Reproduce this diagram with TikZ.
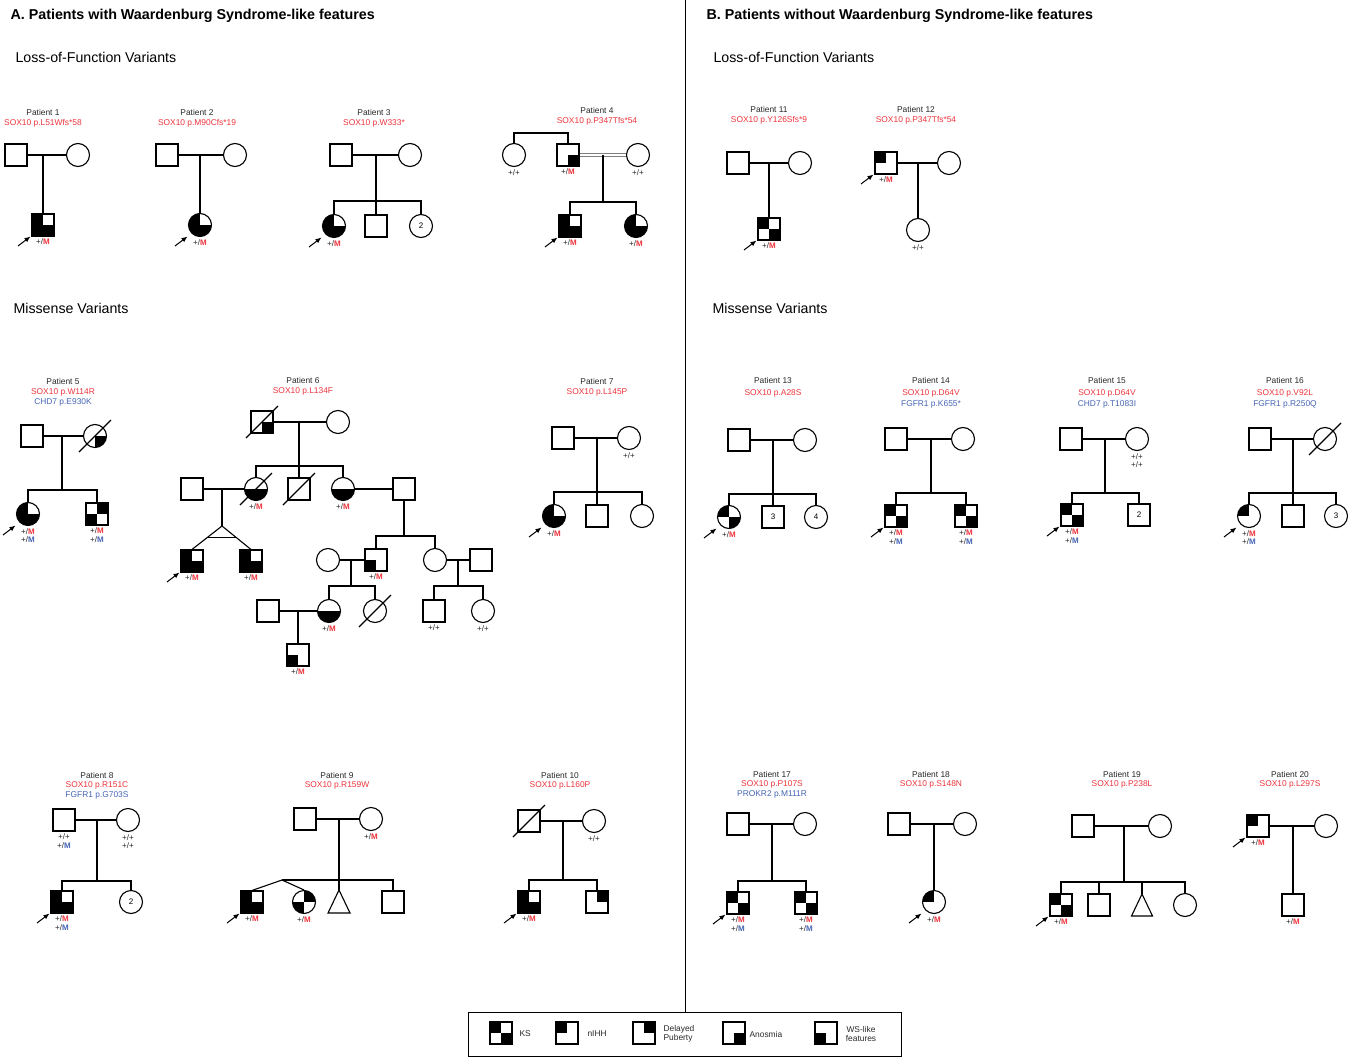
\documentclass[tikz,border=0pt]{standalone}
\usepackage{fontspec}
\setmainfont{Liberation Sans}
\usetikzlibrary{calc,arrows.meta}
\definecolor{vred}{RGB}{236,52,60}
\definecolor{vblue}{RGB}{70,100,180}
\definecolor{txt}{RGB}{40,40,40}
\newcommand{\gR}{\textcolor{vred}{\bfseries M}}
\newcommand{\gB}{\textcolor{vblue}{\bfseries M}}
% square individual: [node options]{name}{x}{y}{filled quadrants}{text}
\newcommand{\Sq}[6][]{%
  \ifx\relax#5\relax\else
    \foreach \a/\b in {#5}{\fill (#3,#4) rectangle ++(\a*11,\b*11);}%
  \fi
  \node[sqs,#1] (#2) at (#3,#4) {#6};}
% circle individual
\newcommand{\Ci}[6][]{%
  \ifx\relax#5\relax\else
    \begin{scope}\clip (#3,#4) circle[radius=11.5];
    \foreach \a/\b in {#5}{\fill (#3,#4) rectangle ++(\a*12,\b*12);}%
    \end{scope}%
  \fi
  \node[cis,#1] (#2) at (#3,#4) {#6};}
\newcommand{\pb}[1]{\draw[parr] ([shift={(-25,21)}]#1.center) -- ([shift={(-12.5,11.5)}]#1.center);}
\newcommand{\dec}[1]{\draw ([shift={(-16,16)}]#1.center) -- ([shift={(16,-16)}]#1.center);}
\tikzset{
  sqs/.style={draw, minimum size=22pt, inner sep=0pt, font=\fontsize{8}{9}\selectfont},
  cis/.style={draw, circle, minimum size=23pt, inner sep=0pt, font=\fontsize{8}{9}\selectfont},
  gt/.style={font=\fontsize{8}{8.5}\selectfont, text=txt, align=center, inner sep=0.5pt},
  parr/.style={-{Latex[length=6pt,width=5pt]}, line width=1pt},
  cons/.style={double, double distance=2.4pt, line width=1pt, draw=black!50},
  fam/.style={align=center, anchor=north, inner sep=0pt, text=txt},
  f10/.style={font=\fontsize{8.4}{10}\selectfont},
  f9/.style={font=\fontsize{8.4}{9.2}\selectfont},
  f11/.style={font=\fontsize{8.4}{11.5}\selectfont},
  head/.style={anchor=west, inner sep=0pt, font=\fontsize{14.3}{16}\selectfont\bfseries},
  sub/.style={anchor=west, inner sep=0pt, font=\fontsize{14.2}{16}\selectfont},
  legt/.style={anchor=west, inner sep=0pt, text=txt, font=\fontsize{8.4}{9.2}\selectfont},
  m1/.style={label={[gt]below:+/\gR}},
  m2/.style={label={[gt]below:+/\gR\\+/\gB}},
  pp/.style={label={[gt]below:+/+}},
}
\begin{document}
\begin{tikzpicture}[x=1pt,y=-1pt,line width=1.1pt,label distance=1.5pt]
\useasboundingbox (0,0) rectangle (1358,1057);

% headings
\node[head] (hA) at (10,16) {A. Patients with Waardenburg Syndrome-like features};
\node[head] (hB) at (706,16) {B. Patients without Waardenburg Syndrome-like features};
\node[sub] (lofA) at (15,57) {Loss-of-Function Variants};
\node[sub] (lofB) at (713,57) {Loss-of-Function Variants};
\node[sub] (misA) at (13,308) {Missense Variants};
\node[sub] (misB) at (712,308) {Missense Variants};

% legend box and divider
\node[draw, line width=1pt, anchor=north west, minimum width=433pt, minimum height=44pt, inner sep=0pt] (leg) at (467.5,1012) {};
\coordinate (dtop) at (685,0);
\draw[line width=1pt] (dtop) -- (dtop |- leg.north);

% ---------- Patient 1
\node[fam,f10] (lab1) at (43,109) {Patient 1\\\textcolor{vred}{SOX10 p.L51Wfs*58}};
\Sq{f1}{16}{155}{}{}
\Ci{mo1}{78}{155}{}{}
\Sq[m1]{c1}{43}{225}{-1/-1,-1/1,1/1}{}
\coordinate (mm1) at (43,155);
\draw (f1) -- (mo1); \draw (mm1) -- (c1);
\pb{c1}

% ---------- Patient 2
\node[fam,f10] (lab2) at (197,109) {Patient 2\\\textcolor{vred}{SOX10 p.M90Cfs*19}};
\Sq{f2}{167}{155}{}{}
\Ci{mo2}{235}{155}{}{}
\Ci[m1]{c2}{200}{225}{-1/-1,-1/1,1/1}{}
\coordinate (mm2) at (200,155);
\draw (f2) -- (mo2); \draw (mm2) -- (c2);
\pb{c2}

% ---------- Patient 3
\node[fam,f10] (lab3) at (374,109) {Patient 3\\\textcolor{vred}{SOX10 p.W333*}};
\Sq{f3}{341}{155}{}{}
\Ci{mo3}{410}{155}{}{}
\Ci[m1]{c3a}{334}{226}{-1/-1,-1/1,1/1}{}
\Sq{c3b}{376}{226}{}{}
\Ci{c3c}{421}{226}{}{2}
\coordinate (mm3) at (376,155); \coordinate (s3) at (376,201);
\draw (f3) -- (mo3); \draw (mm3) -- (s3);
\draw (c3a) |- (s3) -| (c3c); \draw (s3) -- (c3b);
\pb{c3a}

% ---------- Patient 4
\node[fam,f10] (lab4) at (597,107) {Patient 4\\\textcolor{vred}{SOX10 p.P347Tfs*54}};
\Ci[pp]{g4}{514}{155}{}{}
\Sq[m1]{f4}{568}{155}{1/1}{}
\Ci[pp]{w4}{638}{155}{}{}
\coordinate (b4) at (541,133);
\draw (g4) |- (b4) -| (f4);
\draw[cons] (f4) -- (w4);
\Sq[m1]{c4a}{570}{226}{-1/-1,-1/1,1/1}{}
\Ci[m1]{c4b}{636}{226}{-1/-1,-1/1,1/1}{}
\coordinate (mm4) at (603,155); \coordinate (s4) at (603,202);
\draw (mm4) -- (s4); \draw (c4a) |- (s4) -| (c4b);
\pb{c4a}

% ---------- Patient 11
\node[fam,f10] (lab11) at (769,106) {Patient 11\\\textcolor{vred}{SOX10 p.Y126Sfs*9}};
\Sq{f11}{738}{163}{}{}
\Ci{mo11}{800}{163}{}{}
\Sq[m1]{c11}{769}{229}{-1/-1,1/1}{}
\coordinate (mm11) at (769,163);
\draw (f11) -- (mo11); \draw (mm11) -- (c11);
\pb{c11}

% ---------- Patient 12
\node[fam,f10] (lab12) at (916,106) {Patient 12\\\textcolor{vred}{SOX10 p.P347Tfs*54}};
\Sq[m1]{p12}{886}{163}{-1/-1}{}
\Ci{mo12}{949}{163}{}{}
\Ci[pp]{c12}{918}{230}{}{}
\coordinate (mm12) at (918,163);
\draw (p12) -- (mo12); \draw (mm12) -- (c12);
\pb{p12}

% ---------- Patient 5
\node[fam,f10] (lab5) at (63,378) {Patient 5\\\textcolor{vred}{SOX10 p.W114R}\\\textcolor{vblue}{CHD7 p.E930K}};
\Sq{f5}{32}{436}{}{}
\Ci{mo5}{95}{436}{1/1}{} \dec{mo5}
\Ci[m2]{c5a}{28}{514}{-1/-1,-1/1,1/1}{}
\Sq[m2]{c5b}{97}{514}{1/-1,-1/1}{}
\coordinate (mm5) at (62,436); \coordinate (s5) at (62,490);
\draw (f5) -- (mo5); \draw (mm5) -- (s5); \draw (c5a) |- (s5) -| (c5b);
\pb{c5a}

% ---------- Patient 6
\node[fam,f10] (lab6) at (303,377) {Patient 6\\\textcolor{vred}{SOX10 p.L134F}};
\Sq{g6f}{262}{422}{1/1}{} \dec{g6f}
\Ci{g6m}{338}{422}{}{}
\coordinate (m6a) at (299,422); \coordinate (s6a) at (299,466);
\draw (g6f) -- (g6m); \draw (m6a) -- (s6a);
\Ci[m1]{d61}{256}{489}{-1/1,1/1}{} \dec{d61}
\Sq{s61}{299}{489}{}{} \dec{s61}
\Ci[m1]{d62}{343}{489}{-1/1,1/1}{}
\draw (d61) |- (s6a) -| (d62); \draw (s6a) -- (s61);
\Sq{h61}{192}{489}{}{}
\draw (h61) -- (d61);
\coordinate (m6b) at (222,489); \coordinate (tw6) at (222,526);
\draw (m6b) -- (tw6);
\Sq[m1]{t61}{192}{561}{-1/-1,-1/1,1/1}{}
\Sq[m1]{t62}{251}{561}{-1/-1,-1/1,1/1}{}
\draw (t61.north) -- (tw6) -- (t62.north);
\draw ($(tw6)!0.5!(t61.north)$) -- ($(tw6)!0.5!(t62.north)$);
\pb{t61}
\Sq{h62}{404}{489}{}{}
\draw (d62) -- (h62);
\coordinate (s6b) at (404,536);
\draw (h62) -- (s6b);
\Sq[m1]{g61}{376}{560}{-1/1}{}
\Ci{g62}{435}{560}{}{}
\draw (g61) |- (s6b) -| (g62);
\Ci{w61}{328}{560}{}{}
\draw (w61) -- (g61);
\coordinate (m6c) at (351,560); \coordinate (s6c) at (351,586);
\draw (m6c) -- (s6c);
\Ci[m1]{gg1}{329}{611}{-1/1,1/1}{}
\Ci{gg2}{375}{611}{}{} \dec{gg2}
\draw (gg1) |- (s6c) -| (gg2);
\Sq{h63}{481}{560}{}{}
\draw (g62) -- (h63);
\coordinate (m6d) at (458,560); \coordinate (s6d) at (458,586);
\draw (m6d) -- (s6d);
\Sq[pp]{gg3}{434}{611}{}{}
\Ci[pp]{gg4}{483}{611}{}{}
\draw (gg3) |- (s6d) -| (gg4);
\Sq{h64}{268}{611}{}{}
\draw (h64) -- (gg1);
\coordinate (m6e) at (298,611);
\Sq[m1]{ggg}{298}{655}{-1/1}{}
\draw (m6e) -- (ggg);

% ---------- Patient 7
\node[fam,f10] (lab7) at (597,378) {Patient 7\\\textcolor{vred}{SOX10 p.L145P}};
\Sq{f7}{563}{438}{}{}
\Ci[pp]{mo7}{629}{438}{}{}
\Ci[m1]{c7a}{554}{516}{-1/-1,-1/1,1/1}{}
\Sq{c7b}{597}{516}{}{}
\Ci{c7c}{642}{516}{}{}
\coordinate (mm7) at (597,438); \coordinate (s7) at (597,492);
\draw (f7) -- (mo7); \draw (mm7) -- (s7); \draw (c7a) |- (s7) -| (c7c); \draw (s7) -- (c7b);
\pb{c7a}

% ---------- Patient 13
\node[fam,f11] (lab13) at (773,377) {Patient 13\\\textcolor{vred}{SOX10 p.A28S}};
\Sq{f13}{739}{440}{}{}
\Ci{mo13}{805}{440}{}{}
\Ci[m1]{c13a}{729}{517}{-1/-1,1/1}{}
\Sq{c13b}{773}{517}{}{3}
\Ci{c13c}{816}{517}{}{4}
\coordinate (mm13) at (773,440); \coordinate (s13) at (773,494);
\draw (f13) -- (mo13); \draw (mm13) -- (s13); \draw (c13a) |- (s13) -| (c13c); \draw (s13) -- (c13b);
\pb{c13a}

% ---------- Patient 14
\node[fam,f11] (lab14) at (931,377) {Patient 14\\\textcolor{vred}{SOX10 p.D64V}\\\textcolor{vblue}{FGFR1 p.K655*}};
\Sq{f14}{896}{439}{}{}
\Ci{mo14}{963}{439}{}{}
\Sq[m2]{c14a}{896}{516}{-1/-1,1/1}{}
\Sq[m2]{c14b}{966}{516}{-1/-1,1/1}{}
\coordinate (mm14) at (931,439); \coordinate (s14) at (931,493);
\draw (f14) -- (mo14); \draw (mm14) -- (s14); \draw (c14a) |- (s14) -| (c14b);
\pb{c14a}

% ---------- Patient 15
\node[fam,f11] (lab15) at (1107,377) {Patient 15\\\textcolor{vred}{SOX10 p.D64V}\\\textcolor{vblue}{CHD7 p.T1083I}};
\Sq{f15}{1071}{439}{}{}
\Ci[label={[gt]below:+/+\\+/+}]{mo15}{1137}{439}{}{}
\Sq[m2]{c15a}{1072}{515}{-1/-1,1/1}{}
\Sq{c15b}{1139}{515}{}{2}
\coordinate (mm15) at (1105,439); \coordinate (s15) at (1105,493);
\draw (f15) -- (mo15); \draw (mm15) -- (s15); \draw (c15a) |- (s15) -| (c15b);
\pb{c15a}

% ---------- Patient 16
\node[fam,f11] (lab16) at (1285,377) {Patient 16\\\textcolor{vred}{SOX10 p.V92L}\\\textcolor{vblue}{FGFR1 p.R250Q}};
\Sq{f16}{1260}{439}{}{}
\Ci{mo16}{1325}{439}{}{} \dec{mo16}
\Ci[m2]{c16a}{1249}{516}{-1/-1}{}
\Sq{c16b}{1293}{516}{}{}
\Ci{c16c}{1336}{516}{}{3}
\coordinate (mm16) at (1293,439); \coordinate (s16) at (1293,493);
\draw (f16) -- (mo16); \draw (mm16) -- (s16); \draw (c16a) |- (s16) -| (c16c); \draw (s16) -- (c16b);
\pb{c16a}

% ---------- Patient 8
\node[fam,f9] (lab8) at (97,772) {Patient 8\\\textcolor{vred}{SOX10 p.R151C}\\\textcolor{vblue}{FGFR1 p.G703S}};
\Sq[label={[gt]below:+/+\\+/\gB}]{f8}{64}{820}{}{}
\Ci[label={[gt]below:+/+\\+/+}]{mo8}{128}{820}{}{}
\Sq[m2]{c8a}{62}{902}{-1/-1,-1/1,1/1}{}
\Ci{c8b}{131}{902}{}{2}
\coordinate (mm8) at (97,820); \coordinate (s8) at (97,881);
\draw (f8) -- (mo8); \draw (mm8) -- (s8); \draw (c8a) |- (s8) -| (c8b);
\pb{c8a}

% ---------- Patient 9
\node[fam,f9] (lab9) at (337,772) {Patient 9\\\textcolor{vred}{SOX10 p.R159W}};
\Sq{f9}{305}{819}{}{}
\Ci[m1]{mo9}{371}{819}{}{}
\Sq[m1]{c9a}{252}{902}{-1/-1,-1/1,1/1}{}
\Ci[m1]{c9b}{304}{902}{1/-1,-1/1}{}
\coordinate (t9) at (339,890);
\draw (t9) -- ++(11,23) -- ++(-22,0) -- cycle;
\Sq{c9d}{393}{902}{}{}
\coordinate (mm9) at (339,819); \coordinate (s9) at (339,880); \coordinate (tw9) at (282,880);
\draw (f9) -- (mo9); \draw (mm9) -- (s9) -- (t9);
\draw (tw9) -| (c9d);
\draw (c9a.north) -- (tw9) -- (c9b.north);
\pb{c9a}

% ---------- Patient 10
\node[fam,f9] (lab10) at (560,772) {Patient 10\\\textcolor{vred}{SOX10 p.L160P}};
\Sq{f10}{529}{821}{}{} \dec{f10}
\Ci[pp]{mo10}{594}{821}{}{}
\Sq[m1]{c10a}{529}{902}{-1/-1,-1/1,1/1}{}
\Sq{c10b}{597}{902}{1/-1}{}
\coordinate (mm10) at (563,821); \coordinate (s10) at (563,880);
\draw (f10) -- (mo10); \draw (mm10) -- (s10); \draw (c10a) |- (s10) -| (c10b);
\pb{c10a}

% ---------- Patient 17
\node[fam,f9] (lab17) at (772,771) {Patient 17\\\textcolor{vred}{SOX10 p.P107S}\\\textcolor{vblue}{PROKR2 p.M111R}};
\Sq{f17}{738}{824}{}{}
\Ci{mo17}{805}{824}{}{}
\Sq[m2]{c17a}{738}{903}{-1/-1,1/1}{}
\Sq[m2]{c17b}{806}{903}{-1/-1,1/1}{}
\coordinate (mm17) at (772,824); \coordinate (s17) at (772,881);
\draw (f17) -- (mo17); \draw (mm17) -- (s17); \draw (c17a) |- (s17) -| (c17b);
\pb{c17a}

% ---------- Patient 18
\node[fam,f9] (lab18) at (931,771) {Patient 18\\\textcolor{vred}{SOX10 p.S148N}};
\Sq{f18}{899}{824}{}{}
\Ci{mo18}{965}{824}{}{}
\Ci[m1]{c18}{934}{902}{-1/-1}{}
\coordinate (mm18) at (934,824);
\draw (f18) -- (mo18); \draw (mm18) -- (c18);
\pb{c18}

% ---------- Patient 19
\node[fam,f9] (lab19) at (1122,771) {Patient 19\\\textcolor{vred}{SOX10 p.P238L}};
\Sq{f19}{1083}{826}{}{}
\Ci{mo19}{1160}{826}{}{}
\Sq[m1]{c19a}{1061}{905}{-1/-1,1/1}{}
\Sq{c19b}{1099}{905}{}{}
\coordinate (t19) at (1142,894);
\draw (t19) -- ++(10.5,22) -- ++(-21,0) -- cycle;
\Ci{c19d}{1185}{905}{}{}
\coordinate (mm19) at (1124,826); \coordinate (s19) at (1124,882);
\coordinate (s19t) at (1142,882); \coordinate (s19b) at (1099,882);
\draw (f19) -- (mo19); \draw (mm19) -- (s19);
\draw (c19a) |- (s19) -| (c19d);
\draw (s19b) -- (c19b); \draw (s19t) -- (t19);
\pb{c19a}

% ---------- Patient 20
\node[fam,f9] (lab20) at (1290,771) {Patient 20\\\textcolor{vred}{SOX10 p.L297S}};
\Sq[m1]{p20}{1258}{826}{-1/-1}{}
\Ci{mo20}{1326}{826}{}{}
\Sq[m1]{c20}{1293}{905}{}{}
\coordinate (mm20) at (1293,826);
\draw (p20) -- (mo20); \draw (mm20) -- (c20);
\pb{p20}

% ---------- legend
\Sq{k1}{501}{1033}{-1/-1,1/1}{}
\node[legt] (k1t) at (519,1034) {KS};
\Sq{k2}{567}{1033}{-1/-1}{}
\node[legt] (k2t) at (587,1034) {nIHH};
\Sq{k3}{644}{1033}{1/-1}{}
\node[legt, align=left] (k3t) at (663,1034) {Delayed\\Puberty};
\Sq{k4}{734}{1033}{1/1}{}
\node[legt] (k4t) at (749,1034) {Anosmia};
\Sq{k5}{826}{1033}{-1/1}{}
\node[legt, align=center, anchor=center] (k5t) at (861,1034) {WS-like\\features};
\end{tikzpicture}
\end{document}
